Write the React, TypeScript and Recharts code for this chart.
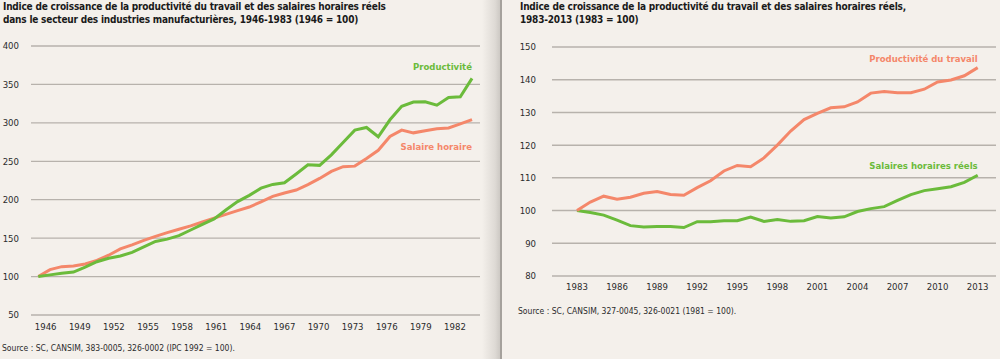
import { LineChart, Line, XAxis, YAxis, CartesianGrid, LabelList } from 'recharts';

const FONT = '"DejaVu Sans Condensed", "Liberation Sans Narrow", "Open Sans", sans-serif';
const BG = '#f4f0eb';
const GREEN = '#6bbb3b';
const ORANGE = '#f4876a';
const GRID = '#b7b2ac';
const INK = '#2b2b2b';

// Graphique 1 : 1946-1983 (1946 = 100)
const years1 = [
  1946, 1947, 1948, 1949, 1950, 1951, 1952, 1953, 1954, 1955, 1956, 1957, 1958,
  1959, 1960, 1961, 1962, 1963, 1964, 1965, 1966, 1967, 1968, 1969, 1970, 1971,
  1972, 1973, 1974, 1975, 1976, 1977, 1978, 1979, 1980, 1981, 1982, 1983,
];
const productivite1 = [
  100, 102.2, 104.3, 105.9, 112.3, 119.3, 123.9, 126.7, 131.5, 138.7, 145.7, 148.7, 153.2,
  160.6, 167.9, 175, 186.7, 197.6, 205.7, 215.1, 219.9, 222, 233.5, 245.5, 244.7, 258.4,
  274.5, 290.5, 294, 281.9, 304, 321.6, 327, 327.4, 323, 332.9, 334, 357.8,
];
const salaire1 = [
  100, 109, 112.9, 113.8, 116.4, 121, 127.8, 136, 141.3, 147, 152.3, 157.2, 161.6,
  166, 171, 176, 181, 185.8, 190.5, 197.2, 204.3, 208.8, 212.6, 219.7, 227.7, 236.8,
  243, 243.7, 253.6, 264.3, 282.3, 290.5, 287, 289.8, 292.3, 293.4, 298.6, 304.3,
];
const xTicks1 = [1946, 1949, 1952, 1955, 1958, 1961, 1964, 1967, 1970, 1973, 1976, 1979, 1982];
const yTicks1 = [50, 100, 150, 200, 250, 300, 350, 400];

// Graphique 2 : 1983-2013 (1983 = 100)
const years2 = [
  1983, 1984, 1985, 1986, 1987, 1988, 1989, 1990, 1991, 1992, 1993, 1994, 1995, 1996,
  1997, 1998, 1999, 2000, 2001, 2002, 2003, 2004, 2005, 2006, 2007, 2008, 2009, 2010,
  2011, 2012, 2013,
];
const productivite2 = [
  100, 102.6, 104.4, 103.5, 104.1, 105.3, 105.8, 104.9, 104.7, 107, 109.1, 112.1, 113.8, 113.4,
  116.1, 120, 124.3, 127.8, 129.7, 131.4, 131.7, 133.2, 135.9, 136.4, 136, 136, 137.1, 139.3,
  139.9, 141.2, 143.7,
];
const salaires2 = [
  100, 99.4, 98.6, 97.1, 95.4, 95, 95.1, 95.1, 94.8, 96.6, 96.6, 96.9, 96.9, 98,
  96.7, 97.3, 96.7, 96.9, 98.2, 97.7, 98.1, 99.7, 100.6, 101.2, 103.1, 104.9, 106.1, 106.7,
  107.3, 108.6, 110.8,
];
const xTicks2 = [1983, 1986, 1989, 1992, 1995, 1998, 2001, 2004, 2007, 2010, 2013];
const yTicks2 = [80, 90, 100, 110, 120, 130, 140, 150];

const data1 = years1.map((year, i) => ({ year, productivite: productivite1[i], salaire: salaire1[i] }));
const data2 = years2.map((year, i) => ({ year, productivite: productivite2[i], salaires: salaires2[i] }));

const tickStyle = { fontSize: 9.5, fill: INK, fontFamily: FONT };

function endLabel(text: string, color: string, dy: number, last: number) {
  return (props: any) => {
    if (props.index !== last) return null;
    return (
      <text
        x={props.x}
        y={props.y}
        dy={dy}
        textAnchor="end"
        fill={color}
        fontFamily={FONT}
        fontSize={9.5}
        fontWeight={700}
      >
        {text}
      </text>
    );
  };
}

const titleStyle: React.CSSProperties = {
  position: 'absolute',
  top: 1,
  fontFamily: FONT,
  fontWeight: 700,
  fontSize: 10,
  letterSpacing: -0.2,
  lineHeight: '12.5px',
  color: '#1a1a1a',
  whiteSpace: 'nowrap',
};

const sourceStyle: React.CSSProperties = {
  position: 'absolute',
  fontFamily: FONT,
  fontSize: 8.5,
  color: INK,
  whiteSpace: 'nowrap',
};

export default function App() {
  return (
    <div style={{ position: 'absolute', left: 0, top: 0, width: 1000, height: 359, background: BG, overflow: 'hidden' }}>
      {/* panneau gauche */}
      <div
        style={{
          position: 'absolute',
          left: 0,
          top: 0,
          width: 500,
          height: 359,
          background: `linear-gradient(to right, ${BG} 0px, ${BG} 482px, #dedad5 495px, #cdc9c4 500px)`,
        }}
      >
        <div style={{ ...titleStyle, left: 3 }}>
          Indice de croissance de la productivité du travail et des salaires horaires réels
          <br />
          dans le secteur des industries manufacturières, 1946-1983 (1946 = 100)
        </div>
        <div style={{ position: 'absolute', left: 0, top: 0 }}>
          <LineChart width={500} height={359} data={data1} margin={{ top: 46, right: 20, bottom: 24, left: 0 }}>
            <CartesianGrid xAxisId="d" horizontal vertical={false} stroke={GRID} strokeWidth={1.3} />
            <XAxis
              xAxisId="d"
              dataKey="year"
              type="number"
              domain={[1945.378, 1983.68]}
              allowDataOverflow
              height={0}
              axisLine={false}
              tickLine={false}
              tick={false}
            />
            <XAxis
              xAxisId="l"
              dataKey="year"
              type="number"
              domain={[1944.707, 1984.199]}
              allowDataOverflow
              ticks={xTicks1}
              interval={0}
              height={20}
              axisLine={false}
              tickLine={false}
              tickMargin={2}
              tick={tickStyle}
            />
            <YAxis
              domain={[50, 400]}
              ticks={yTicks1}
              width={31}
              axisLine={false}
              tickLine={false}
              tickMargin={6}
              tick={tickStyle}
            />
            <Line xAxisId="d" dataKey="salaire" stroke={ORANGE} strokeWidth={3} dot={false} isAnimationActive={false}>
              <LabelList dataKey="salaire" content={endLabel('Salaire horaire', ORANGE, 30, years1.length - 1)} />
            </Line>
            <Line xAxisId="d" dataKey="productivite" stroke={GREEN} strokeWidth={3} dot={false} isAnimationActive={false}>
              <LabelList dataKey="productivite" content={endLabel('Productivité', GREEN, -8, years1.length - 1)} />
            </Line>
          </LineChart>
        </div>
        <div style={{ ...sourceStyle, left: 2, top: 343 }}>Source : SC, CANSIM, 383-0005, 326-0002 (IPC 1992 = 100).</div>
      </div>

      {/* panneau droit */}
      <div
        style={{
          position: 'absolute',
          left: 500,
          top: 0,
          width: 500,
          height: 359,
          background: BG,
          borderLeft: '2px solid #a5a19c',
          boxSizing: 'border-box',
        }}
      >
        <div style={{ ...titleStyle, left: 18 }}>
          Indice de croissance de la productivité du travail et des salaires horaires réels,
          <br />
          1983-2013 (1983 = 100)
        </div>
        <div style={{ position: 'absolute', left: -2, top: 0 }}>
          <LineChart width={500} height={359} data={data2} margin={{ top: 47, right: 4, bottom: 63, left: 0 }}>
            <CartesianGrid horizontal vertical={false} stroke={GRID} strokeWidth={1.5} />
            <XAxis
              dataKey="year"
              type="number"
              domain={[1981.13, 2014.37]}
              allowDataOverflow
              ticks={xTicks2}
              interval={0}
              height={20}
              axisLine={false}
              tickLine={false}
              tickMargin={1}
              tick={tickStyle}
            />
            <YAxis
              domain={[80, 150]}
              ticks={yTicks2}
              width={52}
              axisLine={false}
              tickLine={false}
              tickMargin={10}
              tick={tickStyle}
            />
            <Line dataKey="salaires" stroke={GREEN} strokeWidth={3} dot={false} isAnimationActive={false}>
              <LabelList dataKey="salaires" content={endLabel('Salaires horaires réels', GREEN, -6, years2.length - 1)} />
            </Line>
            <Line dataKey="productivite" stroke={ORANGE} strokeWidth={3} dot={false} isAnimationActive={false}>
              <LabelList dataKey="productivite" content={endLabel('Productivité du travail', ORANGE, -6, years2.length - 1)} />
            </Line>
          </LineChart>
        </div>
        <div style={{ ...sourceStyle, left: 16, top: 306 }}>Source : SC, CANSIM, 327-0045, 326-0021 (1981 = 100).</div>
      </div>
    </div>
  );
}
